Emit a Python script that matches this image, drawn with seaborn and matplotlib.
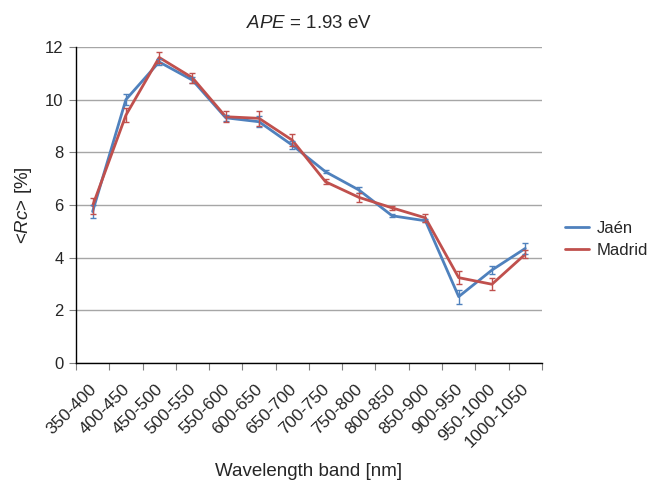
import matplotlib
matplotlib.use("Agg")
import matplotlib.pyplot as plt
from matplotlib.ticker import FixedLocator, NullFormatter
import numpy as np
import pandas as pd
import seaborn as sns

bands = ["350-400", "400-450", "450-500", "500-550", "550-600", "600-650", "650-700",
         "700-750", "750-800", "800-850", "850-900", "900-950", "950-1000", "1000-1050"]
jaen = [5.75, 10.0, 11.43, 10.74, 9.31, 9.16, 8.27, 7.26, 6.57, 5.59, 5.40, 2.52, 3.53, 4.35]
jaen_err = [0.25, 0.21, 0.10, 0.10, 0.12, 0.20, 0.15, 0.06, 0.10, 0.05, 0.05, 0.27, 0.14, 0.20]
madrid = [5.97, 9.41, 11.60, 10.83, 9.35, 9.29, 8.46, 6.88, 6.29, 5.89, 5.51, 3.24, 2.99, 4.13]
madrid_err = [0.30, 0.26, 0.20, 0.18, 0.20, 0.28, 0.22, 0.10, 0.16, 0.07, 0.14, 0.25, 0.23, 0.15]

series = {"Jaén": (jaen, jaen_err, "#4F81BD"), "Madrid": (madrid, madrid_err, "#C0504D")}

sns.set_style("white")
plt.rcParams["font.family"] = ["Liberation Sans", "DejaVu Sans"]
plt.rcParams["mathtext.fontset"] = "custom"
plt.rcParams["mathtext.it"] = "Liberation Sans:italic"
plt.rcParams["mathtext.rm"] = "Liberation Sans"

rows = []
for name, (vals, errs, _) in series.items():
    for i, (b, v, e) in enumerate(zip(bands, vals, errs)):
        rows.append({"pos": i, "band": b, "value": v, "err": e, "site": name})
df = pd.DataFrame(rows)

fig = plt.figure(figsize=(6.59, 4.84), dpi=100)
ax = fig.add_axes([0.1153, 0.25, 0.707, 0.653])

palette = {k: v[2] for k, v in series.items()}
sns.lineplot(data=df, x="pos", y="value", hue="site", palette=palette, lw=2,
             errorbar=None, ax=ax, legend=False)
for name, (vals, errs, color) in series.items():
    sub = df[df["site"] == name]
    ax.errorbar(sub["pos"], sub["value"], yerr=sub["err"], fmt="none",
                ecolor=color, elinewidth=1, capsize=2, capthick=1, zorder=3)

ax.set_xlim(-0.5, len(bands) - 0.5)
ax.set_ylim(0, 12)
ax.set_yticks(np.arange(0, 13, 2))
ax.yaxis.grid(True, color="#A6A6A6", lw=1)
ax.xaxis.grid(False)
ax.set_axisbelow(True)

# category boundaries carry tick marks, centres carry labels
ax.xaxis.set_major_locator(FixedLocator(np.arange(-0.5, len(bands), 1.0)))
ax.xaxis.set_major_formatter(NullFormatter())
ax.xaxis.set_minor_locator(FixedLocator(np.arange(len(bands)) - 0.12))
ax.set_xticklabels(bands, minor=True, rotation=45, ha="right", rotation_mode="anchor",
                   fontsize=12.5)
ax.tick_params(axis="x", which="major", direction="out", length=5, width=0.8,
               color="#808080", bottom=True)
ax.tick_params(axis="x", which="minor", length=0, pad=13)
ax.tick_params(axis="y", direction="out", length=5, width=0.8, color="#808080",
               left=True, labelsize=12, pad=4)

for s in ["top", "right"]:
    ax.spines[s].set_visible(False)
for s in ["left", "bottom"]:
    ax.spines[s].set_color("black")
    ax.spines[s].set_linewidth(1)

ax.set_xlabel("Wavelength band [nm]", fontsize=13.5, labelpad=9)
ax.set_ylabel(r"<$Rc$> [%]", fontsize=13.5, labelpad=8)
ax.set_title(r"$APE$ = 1.93 eV", fontsize=13.5, pad=14)

handles = [plt.Line2D([], [], color=c, lw=2) for _, (_, _, c) in series.items()]
fig.legend(handles, list(series.keys()), loc="center left",
           bbox_to_anchor=(0.835, 0.505), frameon=False, fontsize=12,
           handlelength=1.4, handletextpad=0.5, labelspacing=0.45)

fig.savefig("out.png", dpi=100)
